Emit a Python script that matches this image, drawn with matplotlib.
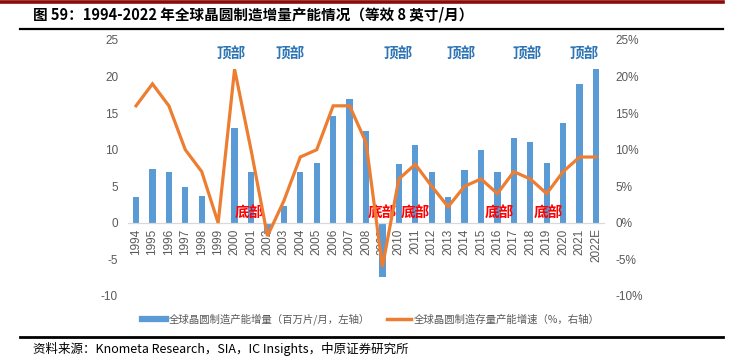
import matplotlib
matplotlib.use("Agg")
import matplotlib.pyplot as plt
from matplotlib.lines import Line2D
import numpy as np

plt.rcParams['font.family'] = ['Noto Sans CJK SC', 'DejaVu Sans']

years = ['1994', '1995', '1996', '1997', '1998', '1999', '2000', '2001', '2002', '2003',
         '2004', '2005', '2006', '2007', '2008', '2009', '2010', '2011', '2012', '2013',
         '2014', '2015', '2016', '2017', '2018', '2019', '2020', '2021', '2022E']
capacity_add = [3.5, 7.3, 7.0, 4.9, 3.7, 0.0, 13.0, 7.0, -1.5, 2.3,
                6.9, 8.2, 14.6, 17.0, 12.6, -7.4, 8.1, 10.7, 6.9, 3.5,
                7.2, 10.0, 6.9, 11.6, 11.1, 8.2, 13.7, 19.0, 21.0]
capacity_growth = [16, 19, 16, 10, 7, 0, 21, 10, -1.8, 3,
                   9, 10, 16, 16, 11, -6, 6, 8, 5, 2.2,
                   5, 6, 4, 7, 6, 4, 7, 9, 9]
left_ticks = [-10, -5, 0, 5, 10, 15, 20, 25]
right_ticks = [-10, -5, 0, 5, 10, 15, 20, 25]
top_labels_x = [5.76, 9.41, 15.96, 19.8, 23.8, 27.3]
bottom_labels_x = [6.9, 15.0, 17.0, 22.1, 25.1]

title = '图 59：1994-2022 年全球晶圆制造增量产能情况（等效 8 英寸/月）'
legend_bar = '全球晶圆制造产能增量（百万片/月，左轴）'
legend_line = '全球晶圆制造存量产能增速（%，右轴）'
source = '资料来源：Knometa Research，SIA，IC Insights，中原证券研究所'

W, H = 731, 356
fig = plt.figure(figsize=(W / 100, H / 100), dpi=100)
ax = fig.add_axes([127.8 / W, 1 - 296 / H, (604.2 - 127.8) / W, (296 - 40) / H])
ax2 = ax.twinx()

grey = '#595959'
bar_color = '#5B9BD5'
line_color = '#ED7D31'
num_font = ['Liberation Sans', 'DejaVu Sans']

x = np.arange(len(years))
ax.bar(x, capacity_add, width=0.38, color=bar_color, zorder=2)
ax2.plot(x, capacity_growth, color=line_color, lw=2.3, zorder=3, solid_joinstyle='miter')

ax.set_xlim(-0.5, len(years) - 0.5)
ax.set_ylim(-10, 25)
ax2.set_ylim(-10, 25)
ax.set_yticks(left_ticks)
ax.set_yticklabels([str(t) for t in left_ticks])
ax2.set_yticks(right_ticks)
ax2.set_yticklabels([f'{t}%' for t in right_ticks])

for a in (ax, ax2):
    for s in ['top', 'left', 'right', 'bottom']:
        a.spines[s].set_visible(False)
ax.spines['bottom'].set_visible(True)
ax.spines['bottom'].set_position(('data', 0))
ax.spines['bottom'].set_color('#D9D9D9')
ax.spines['bottom'].set_linewidth(0.9)

ax.set_xticks(x)
ax.set_xticklabels(years, rotation=90, fontsize=8.5, color=grey, family=num_font)
ax.tick_params(axis='x', length=0, pad=4)
ax.tick_params(axis='y', length=0, pad=7, labelsize=8.5, labelcolor=grey)
ax2.tick_params(axis='y', length=0, pad=8, labelsize=8.5, labelcolor=grey)
for lab in ax.get_yticklabels() + ax2.get_yticklabels():
    lab.set_family(num_font)

ax2.set_zorder(ax.get_zorder() + 1)
ax2.patch.set_visible(False)

for xp in top_labels_x:
    ax.text(xp, 23.2, '顶部', color='#2E75B6', fontsize=10.5, fontweight='bold',
            ha='center', va='center', zorder=5)
for xp in bottom_labels_x:
    ax.text(xp, 1.4, '底部', color='#FF0000', fontsize=10.5, fontweight='bold',
            ha='center', va='center', zorder=5)

# header / footer decorations
fig.add_artist(Line2D([0, 723 / W], [1 - 1.5 / H, 1 - 1.5 / H], color='#8B0A0A', lw=2.6))
fig.add_artist(Line2D([20 / W, 723 / W], [1 - 28.5 / H, 1 - 28.5 / H], color='black', lw=1.6))
fig.add_artist(Line2D([20 / W, 723 / W], [1 - 337 / H, 1 - 337 / H], color='black', lw=2.0))
fig.text(33 / W, 1 - 15 / H, title, fontsize=10.5, fontweight='bold', ha='left', va='center')
fig.text(33 / W, 1 - 348.5 / H, source, fontsize=9, ha='left', va='center')

handles = [Line2D([0], [0], color=bar_color, lw=4.5),
           Line2D([0], [0], color=line_color, lw=2.5)]
leg = fig.legend(handles, [legend_bar, legend_line], loc='center',
                 bbox_to_anchor=(371 / W, 1 - 319 / H), ncol=2, frameon=False,
                 fontsize=7.5, handlelength=2.3, handletextpad=0.3, columnspacing=1.6,
                 labelcolor=grey)

fig.savefig('out.png', dpi=100)
